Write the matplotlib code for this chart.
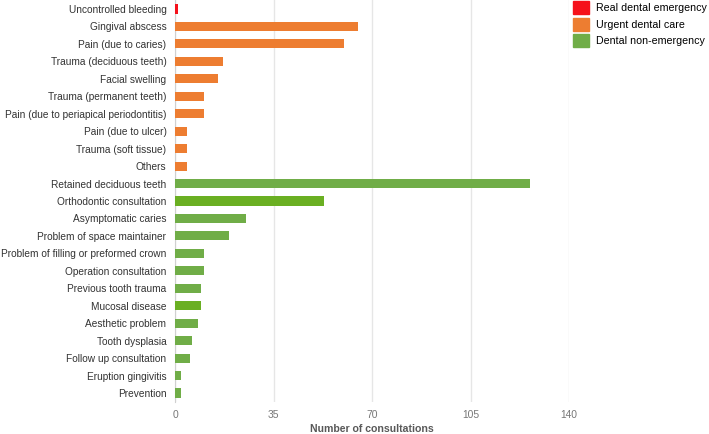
import matplotlib.pyplot as plt
from matplotlib.patches import Patch

plt.rcParams['font.family'] = ['Liberation Sans', 'DejaVu Sans']

categories = [
    'Uncontrolled bleeding',
    'Gingival abscess',
    'Pain (due to caries)',
    'Trauma (deciduous teeth)',
    'Facial swelling',
    'Trauma (permanent teeth)',
    'Pain (due to periapical periodontitis)',
    'Pain (due to ulcer)',
    'Trauma (soft tissue)',
    'Others',
    'Retained deciduous teeth',
    'Orthodontic consultation',
    'Asymptomatic caries',
    'Problem of space maintainer',
    'Problem of filling or preformed crown',
    'Operation consultation',
    'Previous tooth trauma',
    'Mucosal disease',
    'Aesthetic problem',
    'Tooth dysplasia',
    'Follow up consultation',
    'Eruption gingivitis',
    'Prevention',
]
values = [1, 65, 60, 17, 15, 10, 10, 4, 4, 4,
          126, 53, 25, 19, 10, 10, 9, 9, 8, 6, 5, 2, 2]
groups = ['emergency'] + ['urgent'] * 9 + ['non'] * 13
legend_labels = ['Real dental emergency', 'Urgent dental care', 'Dental non-emergency']
xticks = [0, 35, 70, 105, 140]

colors = {'emergency': '#F5111B', 'urgent': '#ED7D31', 'non': '#70AD47'}
bar_colors = [colors[g] for g in groups]
# two bars are drawn in a slightly brighter green in the original
bar_colors[categories.index('Orthodontic consultation')] = '#6AAF22'
bar_colors[categories.index('Mucosal disease')] = '#6AAF22'

fig = plt.figure(figsize=(7.09, 4.34), dpi=100)
ax = fig.add_axes([0.2475, 0.0744, 0.555, 0.925])

y = list(range(len(categories)))
ax.barh(y, values, height=0.52, color=bar_colors, zorder=3)
ax.set_ylim(len(categories) - 0.5, -0.5)
ax.set_yticks(y)
ax.set_yticklabels(categories, fontsize=7.3, color='#333333')
ax.set_xlim(0, 140)
ax.set_xticks(xticks)
ax.set_xticklabels([str(t) for t in xticks], fontsize=7.4, color='#777777')
ax.tick_params(axis='y', length=0, pad=6.5)
ax.tick_params(axis='x', length=0, pad=6)
ax.grid(axis='x', color='#E6E6E6', linewidth=1, zorder=0)
for s in ['top', 'right', 'bottom']:
    ax.spines[s].set_visible(False)
ax.spines['left'].set_color('#D0D0D0')
ax.set_xlabel('Number of consultations', fontsize=7.6, fontweight='bold',
              color='#595959', labelpad=2.5)

handles = [Patch(color=c) for c in ['#F5111B', '#ED7D31', '#70AD47']]
fig.legend(handles, legend_labels, loc='upper left', bbox_to_anchor=(0.808, 0.997),
           frameon=False, fontsize=7.7, handlelength=1.5, handleheight=1.5,
           labelspacing=0.3, handletextpad=0.65, borderaxespad=0, borderpad=0)

fig.savefig('out.png', dpi=100)
